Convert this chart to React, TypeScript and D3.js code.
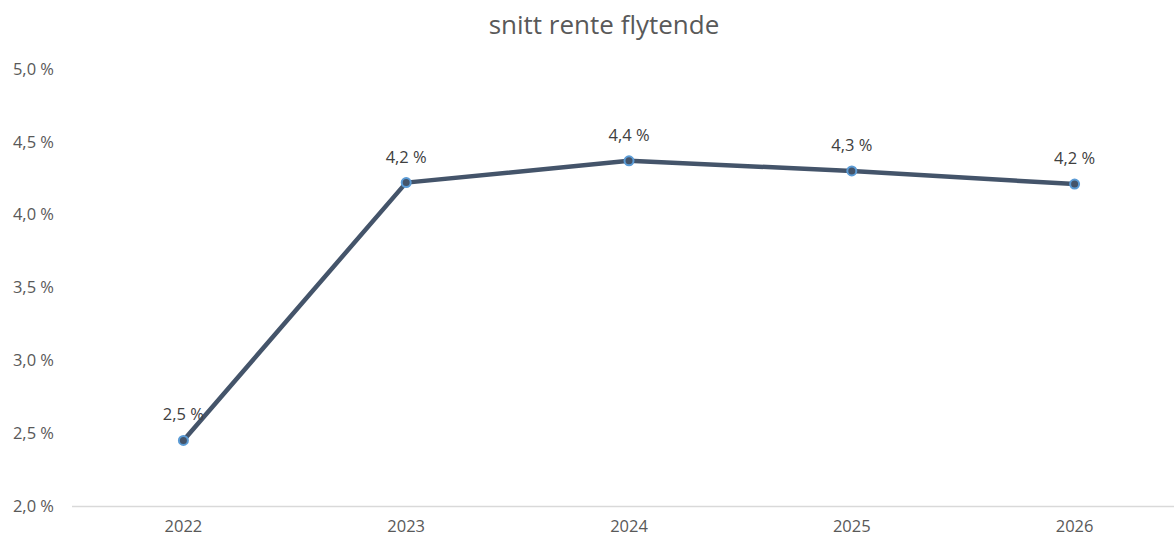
import { useEffect, useRef } from "react";
import * as d3 from "d3";

const years = ["2022", "2023", "2024", "2025", "2026"];
const rente = [2.45, 4.22, 4.37, 4.3, 4.21];
const yTicks = [2.0, 2.5, 3.0, 3.5, 4.0, 4.5, 5.0];
const title = "snitt rente flytende";

const width = 1174;
const height = 537;
const margin = { top: 69, right: -12, bottom: 31, left: 72 };

const nb = d3.formatLocale({
  decimal: ",",
  thousands: " ",
  grouping: [3],
  currency: ["", " kr"],
  percent: " %",
});
const pct = nb.format(".1%");

export default function App() {
  const svgRef = useRef<SVGSVGElement>(null);

  useEffect(() => {
    const svg = d3.select(svgRef.current);
    svg.selectAll("*").remove();

    const font = "'Open Sans', 'Noto Sans', sans-serif";
    const boundsW = width - margin.left - margin.right;
    const boundsH = height - margin.top - margin.bottom;

    const x = d3.scaleBand().domain(years).range([0, boundsW]);
    const y = d3.scaleLinear().domain([2, 5]).range([boundsH, 0]);

    // tittel
    svg
      .append("text")
      .attr("x", 604)
      .attr("y", 34)
      .attr("text-anchor", "middle")
      .style("font-family", font)
      .style("font-size", "26px")
      .style("fill", "#595959")
      .text(title);

    const g = svg
      .append("g")
      .attr("transform", `translate(${margin.left},${margin.top})`);

    // y-akse etiketter (ingen gridlinjer)
    g.selectAll(".ytick")
      .data(yTicks)
      .enter()
      .append("text")
      .attr("x", -18)
      .attr("y", (d) => y(d))
      .attr("dy", "0.35em")
      .attr("text-anchor", "end")
      .style("font-family", font)
      .style("font-size", "16.5px")
      .style("fill", "#595959")
      .text((d) => pct(d / 100));

    // x-akse linje
    g.append("line")
      .attr("x1", 0)
      .attr("x2", width - margin.left)
      .attr("y1", boundsH + 0.5)
      .attr("y2", boundsH + 0.5)
      .attr("stroke", "#d9d9d9")
      .attr("stroke-width", 1.5);

    g.selectAll(".xtick")
      .data(years)
      .enter()
      .append("text")
      .attr("x", (d) => x(d)! + x.bandwidth() / 2)
      .attr("y", boundsH + 26)
      .attr("text-anchor", "middle")
      .style("font-family", font)
      .style("font-size", "16.5px")
      .style("fill", "#595959")
      .text((d) => d);

    const pts = years.map((yr, i) => ({ yr, v: rente[i] }));

    const line = d3
      .line<{ yr: string; v: number }>()
      .x((d) => x(d.yr)! + x.bandwidth() / 2)
      .y((d) => y(d.v));

    g.append("path")
      .datum(pts)
      .attr("fill", "none")
      .attr("stroke", "#44546a")
      .attr("stroke-width", 4.5)
      .attr("stroke-linejoin", "round")
      .attr("d", line);

    g.selectAll(".dot")
      .data(pts)
      .enter()
      .append("circle")
      .attr("cx", (d) => x(d.yr)! + x.bandwidth() / 2)
      .attr("cy", (d) => y(d.v))
      .attr("r", 4.5)
      .attr("fill", "#44546a")
      .attr("stroke", "#5b9bd5")
      .attr("stroke-width", 2);

    // dataetiketter
    g.selectAll(".lbl")
      .data(pts)
      .enter()
      .append("text")
      .attr("x", (d) => x(d.yr)! + x.bandwidth() / 2)
      .attr("y", (d) => y(d.v) - 20)
      .attr("text-anchor", "middle")
      .style("font-family", font)
      .style("font-size", "16.5px")
      .style("fill", "#404040")
      .text((d) => pct(d.v / 100));
  }, []);

  return (
    <svg
      ref={svgRef}
      width={width}
      height={height}
      style={{ position: "absolute", left: 0, top: 0, background: "#fff" }}
    ></svg>
  );
}
